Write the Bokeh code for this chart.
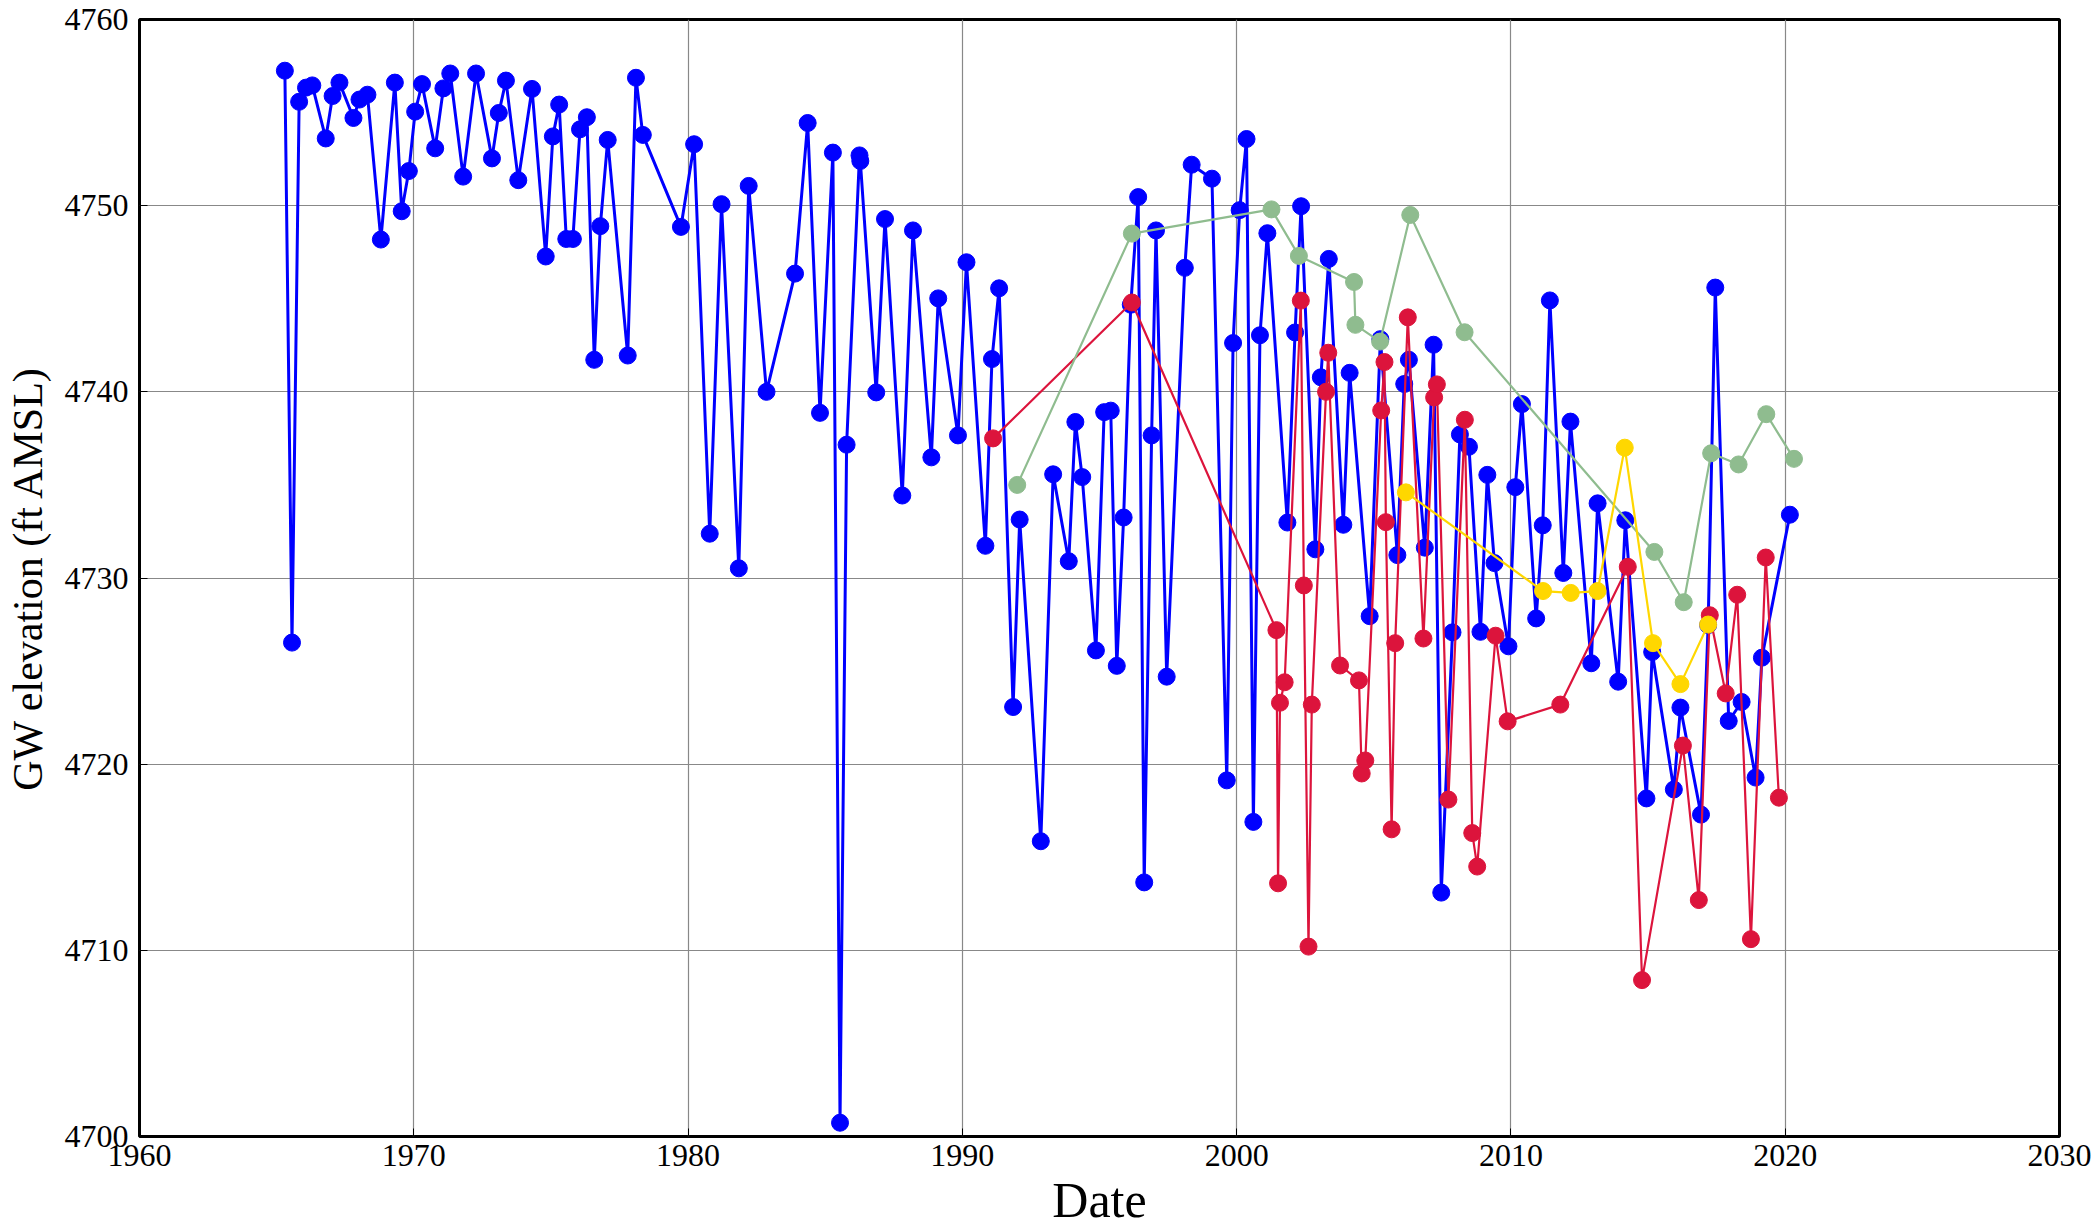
from bokeh.plotting import figure
from bokeh.models import Range1d, FixedTicker, Label, Legend, LegendItem
from bokeh.embed import file_html
from bokeh.resources import INLINE

# ---------------- data ----------------
blue_year = [1965.30, 1965.56, 1965.82, 1966.07, 1966.30, 1966.79, 1967.04, 1967.29, 1967.80, 1968.02,
             1968.31, 1968.80, 1969.31, 1969.56, 1969.82, 1970.05, 1970.30, 1970.78, 1971.08, 1971.33,
             1971.80, 1972.27, 1972.85, 1973.10, 1973.36, 1973.81, 1974.31, 1974.81, 1975.07, 1975.30,
             1975.56, 1975.80, 1976.06, 1976.31, 1976.58, 1976.80, 1977.07, 1977.80, 1978.10, 1978.35,
             1979.74, 1980.22, 1980.79, 1981.22, 1981.85, 1982.21, 1982.86, 1983.90, 1984.36, 1984.81,
             1985.28, 1985.54, 1985.78, 1986.25, 1986.28, 1986.86, 1987.18, 1987.81, 1988.20, 1988.87,
             1989.12, 1989.84, 1990.15, 1990.84, 1991.08, 1991.34, 1991.85, 1992.09, 1992.86, 1993.31,
             1993.88, 1994.12, 1994.37, 1994.87, 1995.17, 1995.41, 1995.63, 1995.88, 1996.14, 1996.41,
             1996.63, 1996.90, 1997.06, 1997.45, 1998.11, 1998.36, 1999.10, 1999.64, 1999.87, 2000.11,
             2000.36, 2000.61, 2000.85, 2001.12, 2001.85, 2002.13, 2002.35, 2002.87, 2003.07, 2003.36,
             2003.89, 2004.12, 2004.85, 2005.24, 2005.86, 2006.11, 2006.28, 2006.86, 2007.18, 2007.46,
             2007.87, 2008.14, 2008.47, 2008.89, 2009.14, 2009.40, 2009.91, 2010.16, 2010.40, 2010.92,
             2011.16, 2011.42, 2011.91, 2012.17, 2012.93, 2013.16, 2013.91, 2014.17, 2014.94, 2015.15,
             2015.94, 2016.18, 2016.93, 2017.19, 2017.45, 2017.94, 2018.41, 2018.92, 2019.15, 2020.17]
blue_elev = [4757.25, 4726.53, 4755.58, 4756.34, 4756.46, 4753.61, 4755.89, 4756.61, 4754.71, 4755.70,
             4755.96, 4748.18, 4756.61, 4749.70, 4751.86, 4755.05, 4756.53, 4753.08, 4756.30, 4757.10,
             4751.56, 4757.10, 4752.54, 4754.98, 4756.72, 4751.37, 4756.27, 4747.27, 4753.72, 4755.43,
             4748.21, 4748.21, 4754.10, 4754.75, 4741.72, 4748.90, 4753.53, 4741.95, 4756.87, 4753.80,
             4748.86, 4753.30, 4732.38, 4750.08, 4730.52, 4751.06, 4740.00, 4746.35, 4754.44, 4738.87,
             4752.85, 4700.74, 4737.16, 4752.70, 4752.40, 4739.97, 4749.28, 4734.43, 4748.67, 4736.48,
             4745.02, 4737.66, 4746.96, 4731.73, 4741.76, 4745.56, 4723.07, 4733.14, 4715.86, 4735.57,
             4730.90, 4738.38, 4735.42, 4726.11, 4738.91, 4738.99, 4725.28, 4733.25, 4744.68, 4750.46,
             4713.65, 4737.66, 4748.67, 4724.70, 4746.66, 4752.20, 4751.45, 4719.13, 4742.62, 4749.76,
             4753.58, 4716.90, 4743.04, 4748.52, 4732.98, 4743.19, 4749.97, 4731.54, 4740.78, 4747.14,
             4732.86, 4741.02, 4727.95, 4742.83, 4731.23, 4740.42, 4741.72, 4731.63, 4742.53, 4713.10,
             4727.08, 4737.71, 4737.05, 4727.11, 4735.54, 4730.80, 4726.33, 4734.88, 4739.34, 4727.83,
             4732.83, 4744.91, 4730.27, 4738.40, 4725.42, 4734.01, 4724.43, 4733.10, 4718.16, 4726.02,
             4718.64, 4723.04, 4717.29, 4727.47, 4745.60, 4722.32, 4723.34, 4719.28, 4725.72, 4733.40]

red_year = [1991.12, 1996.18, 2001.45, 2001.51, 2001.58, 2001.75, 2002.34, 2002.45, 2002.62, 2002.74,
            2003.26, 2003.34, 2003.77, 2004.46, 2004.56, 2004.69, 2005.27, 2005.39, 2005.44, 2005.65,
            2005.78, 2006.24, 2006.81, 2007.20, 2007.30, 2007.72, 2008.32, 2008.59, 2008.77, 2009.44,
            2009.88, 2011.80, 2014.26, 2014.78, 2016.27, 2016.85, 2017.25, 2017.83, 2018.25, 2018.75,
            2019.29, 2019.77]
red_elev = [4737.5, 4744.8, 4727.2, 4713.6, 4723.3, 4724.4, 4744.9, 4729.6, 4710.2, 4723.2,
            4740.0, 4742.1, 4725.3, 4724.5, 4719.5, 4720.2, 4739.0, 4741.6, 4733.0, 4716.5,
            4726.5, 4744.0, 4726.75, 4739.7, 4740.4, 4718.1, 4738.5, 4716.3, 4714.5, 4726.9,
            4722.3, 4723.2, 4730.6, 4708.4, 4721.0, 4712.7, 4728.0, 4723.8, 4729.1, 4710.6,
            4731.1, 4718.2]

green_year = [1992.00, 1996.18, 2001.27, 2002.27, 2004.28, 2004.33, 2005.23, 2006.33, 2008.31,
              2015.23, 2016.30, 2017.30, 2018.30, 2019.31, 2020.32]
green_elev = [4735.0, 4748.5, 4749.8, 4747.3, 4745.9, 4743.6, 4742.7, 4749.5, 4743.2,
              4731.4, 4728.7, 4736.7, 4736.1, 4738.8, 4736.4]

yellow_year = [2006.17, 2011.17, 2012.18, 2013.16, 2014.15, 2015.18, 2016.18, 2017.19]
yellow_elev = [4734.6, 4729.3, 4729.2, 4729.3, 4737.0, 4726.5, 4724.3, 4727.5]

series_names = ["Well A", "Well B", "Well C", "Well D"]
x_ticks = [1960, 1970, 1980, 1990, 2000, 2010, 2020, 2030]
y_ticks = [4700, 4710, 4720, 4730, 4740, 4750, 4760]

SERIF = "Liberation Serif"

# ---------------- figure ----------------
p = figure(width=2098, height=1230, output_backend="svg", toolbar_location=None,
           x_range=Range1d(1960, 2030), y_range=Range1d(4700, 4760),
           min_border_left=139, min_border_right=39, min_border_top=19, min_border_bottom=93)
p.background_fill_color = "white"
p.border_fill_color = "white"
p.outline_line_color = "black"
p.outline_line_width = 3

for ax, ticks in ((p.xaxis[0], x_ticks), (p.yaxis[0], y_ticks)):
    ax.ticker = FixedTicker(ticks=ticks)
    ax.axis_line_color = None
    ax.major_tick_in = 8
    ax.major_tick_out = 0
    ax.major_tick_line_color = "black"
    ax.minor_tick_line_color = None
    ax.major_label_text_font = SERIF
    ax.major_label_text_font_size = "32px"
    ax.major_label_text_color = "black"
    ax.axis_label_text_font = SERIF
    ax.axis_label_text_font_style = "normal"
    ax.axis_label_text_color = "black"

p.xaxis.major_label_standoff = 8
p.xaxis.axis_label = "Date"
p.xaxis.axis_label_text_font_size = "50px"
p.xaxis.axis_label_standoff = 3

p.yaxis.major_label_standoff = 11
p.yaxis.axis_label = "GW elevation (ft AMSL)"
p.yaxis.axis_label_text_font_size = "42px"
p.yaxis.axis_label_standoff = 11

p.xgrid.ticker = FixedTicker(ticks=x_ticks)
p.ygrid.ticker = FixedTicker(ticks=y_ticks)
for g in (p.xgrid[0], p.ygrid[0]):
    g.grid_line_color = "#888888"
    g.grid_line_width = 1.2

# ---------------- series ----------------
specs = [
    (blue_year, blue_elev, "#0000ff", 3.0),
    (red_year, red_elev, "#dc143c", 2.2),
    (green_year, green_elev, "#8fbc8f", 2.2),
    (yellow_year, yellow_elev, "#ffd700", 2.2),
]
items = []
for (xs, ys, col, lw), name in zip(specs, series_names):
    p.line(xs, ys, line_color=col, line_width=lw)
    r = p.scatter(xs, ys, size=17, fill_color=col, line_color=col)
    items.append(LegendItem(label=name, renderers=[r]))

legend = Legend(items=items, location=(1944, 1118 - 158), padding=10, spacing=18,
                glyph_width=17, glyph_height=20, label_height=20,
                border_line_color="black", border_line_width=2,
                label_text_font=SERIF, label_text_font_size="20px",
                background_fill_color="white", background_fill_alpha=1)
p.add_layout(legend)

# ---------------- titles (cut off at the top edge, as in the reference) ----------------
p.add_layout(Label(x=958, y=1145, x_units="screen", y_units="screen",
                   text="Observation Well Data", text_align="center",
                   text_baseline="alphabetic", text_font=SERIF, text_font_size="64px",
                   text_color="black"))
p.add_layout(Label(x=1776, y=1150, x_units="screen", y_units="screen", text="All Data",
                   text_align="center", text_baseline="alphabetic", text_font=SERIF,
                   text_font_size="24px", text_color="black"))

open("out.html", "w").write(file_html(p, INLINE))
